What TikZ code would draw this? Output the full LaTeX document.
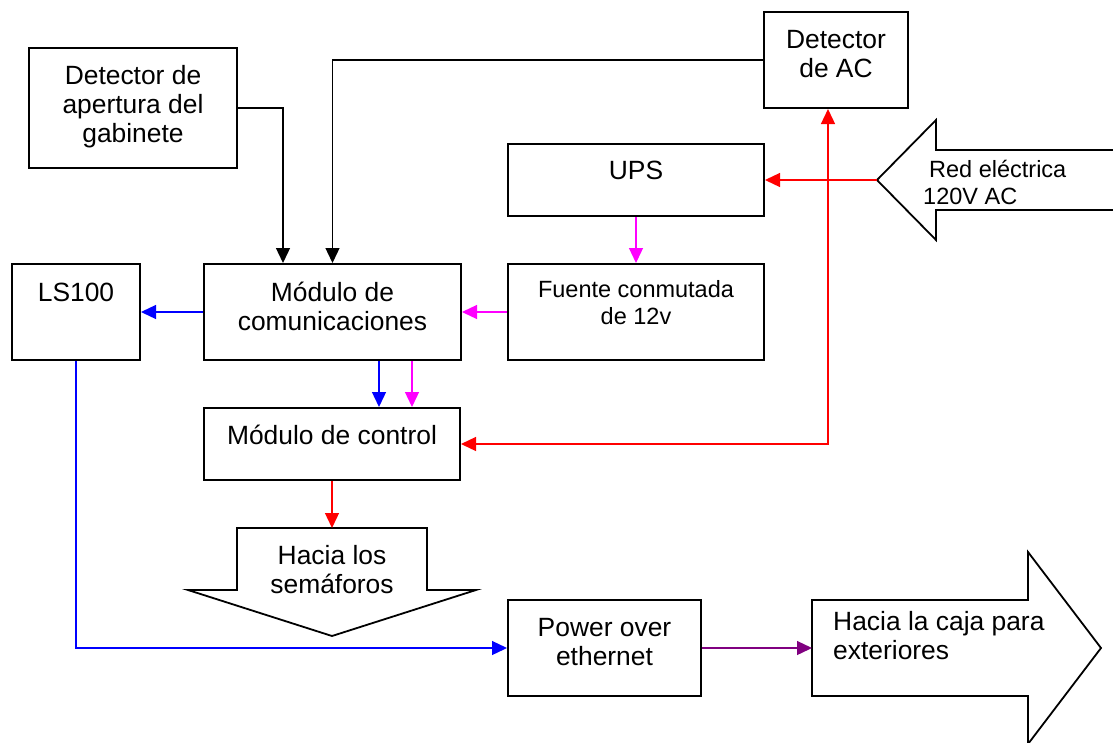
\documentclass[tikz,border=0pt]{standalone}
\usepackage{fontspec}
\setmainfont{Liberation Sans}
\usetikzlibrary{arrows.meta,calc}
\definecolor{linkpurple}{RGB}{128,0,128}
\definecolor{linkmagenta}{RGB}{255,0,255}
\definecolor{linkred}{RGB}{255,0,0}
\definecolor{linkblue}{RGB}{0,0,255}
\begin{document}
\begin{tikzpicture}[x=1pt,y=-1pt,
  box/.style={draw, line width=2pt, rectangle, inner sep=0pt},
  lbl/.style={inner sep=0pt, align=center, font=\fontsize{26.4}{29}\selectfont},
  slbl/.style={inner sep=0pt, align=center, font=\fontsize{23.5}{27}\selectfont},
  conn/.style={line width=1.3pt, -{Triangle[length=15pt,width=14pt]}},
  biconn/.style={line width=1.3pt, {Triangle[length=15pt,width=14pt]}-{Triangle[length=15pt,width=14pt]}},
  bigarrow/.style={draw, line width=1.8pt, line join=miter, fill=white}]

\useasboundingbox (0,0) rectangle (1113,742);

% blocks
\node[box, minimum width=208pt, minimum height=120pt] (apert) at (133,108) {};
\node[box, minimum width=144pt, minimum height=96pt]  (ac)    at (836,60) {};
\node[box, minimum width=256pt, minimum height=72pt]  (ups)   at (636,180) {};
\node[box, minimum width=128pt, minimum height=96pt]  (ls)    at (76,312) {};
\node[box, minimum width=257pt, minimum height=96pt]  (com)   at (332.5,312) {};
\node[box, minimum width=256pt, minimum height=96pt]  (fuente) at (636,312) {};
\node[box, minimum width=256pt, minimum height=72pt]  (ctrl)  at (332,444) {};
\node[box, minimum width=193pt, minimum height=96pt]  (poe)   at (604.5,648) {};

% block arrows
\draw[bigarrow] (1113,150) -- (936,150) -- (936,120) -- (877,180) -- (936,240) -- (936,210) -- (1113,210);
\draw[bigarrow] (237,528) -- (427,528) -- (427,590) -- (476,590) -- (332,636) -- (188,590) -- (237,590) -- cycle;
\draw[bigarrow] (812,600) -- (1028,600) -- (1028,552) -- (1101,648) -- (1028,744) -- (1028,696) -- (812,696) -- cycle;

\coordinate (redtip) at (877,180);
\coordinate (semtop) at (332,528);
\coordinate (cajain) at (812,648);
\coordinate (acin) at ($(ac.south)+(-8,0)$);

% texts
\node[lbl, anchor=base] (tapert) at (133,142) {Detector de\\apertura del\\gabinete};
\node[lbl, anchor=base] (tac) at (836,77) {Detector\\de AC};
\node[lbl, anchor=base] (tups) at (636,179) {UPS};
\node[lbl, anchor=base] (tls) at (76,301) {LS100};
\node[lbl, anchor=base] (tcom) at (332.5,330) {Módulo de\\comunicaciones};
\node[slbl, anchor=base] (tfuente) at (636,324) {Fuente conmutada\\de 12v};
\node[lbl, anchor=base] (tctrl) at (332,444) {Módulo de control};
\node[lbl, anchor=base] (tsem) at (332,593) {Hacia los\\semáforos};
\node[lbl, anchor=base] (tpoe) at (604.5,665) {Power over\\ethernet};
\node[lbl, align=left, anchor=base west] (tcaja) at (833,659) {Hacia la caja para\\exteriores};
\node[slbl, anchor=base west] (tred1) at (929,177) {Red eléctrica};
\node[slbl, anchor=base west] (tred2) at (923,204) {120V AC};

% connections
\draw[conn] (apert.east) -| ($(com.north west)+(80,0)$);
\draw[conn] (ac.west) -| (com.north);
\draw[conn, linkmagenta] (ups.south) -- (fuente.north);
\draw[conn, linkmagenta] (fuente.west) -- (com.east);
\draw[conn, linkblue] (com.west) -- (ls.east);
\draw[conn, linkblue] ($(com.south west)+(176,0)$) -- ($(ctrl.north west)+(176,0)$);
\draw[conn, linkmagenta] ($(com.south west)+(209,0)$) -- ($(ctrl.north west)+(209,0)$);
\draw[conn, linkblue] (ls.south) |- (poe.west);
\draw[conn, linkpurple] (poe.east) -- (cajain);
\draw[conn, linkred] (ctrl.south) -- (semtop);
\draw[conn, linkred] (redtip) -- (ups.east);
\draw[biconn, linkred] (ctrl.east) -| (acin);
\end{tikzpicture}
\end{document}
